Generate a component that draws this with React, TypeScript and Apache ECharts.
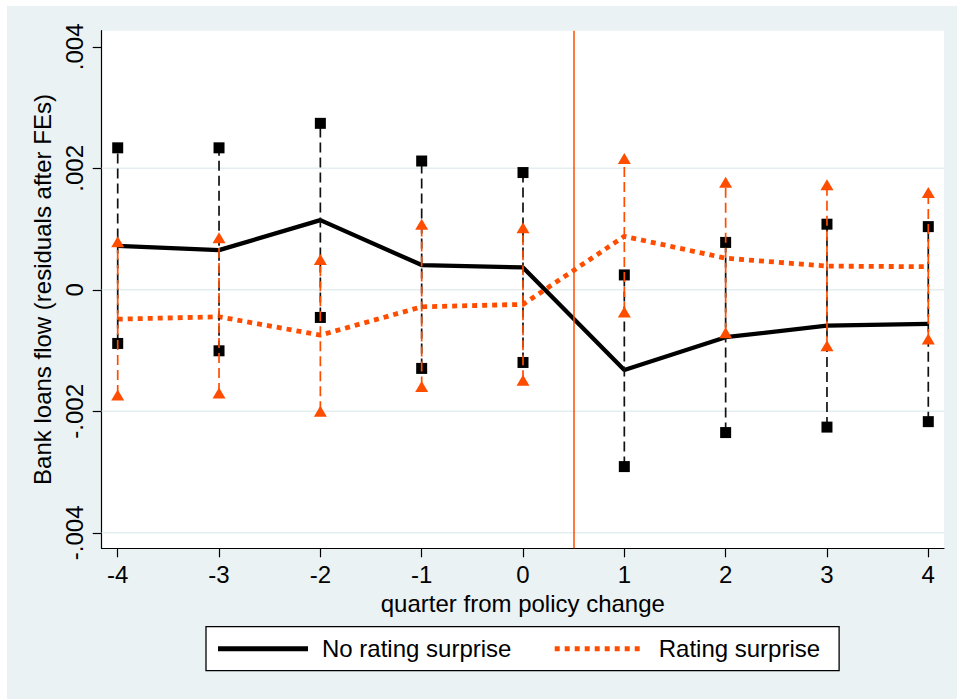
import React, { useEffect, useRef } from "react";
import * as echarts from "echarts";

const quarters = [-4, -3, -2, -1, 0, 1, 2, 3, 4];
const noSurprise = [0.000724, 0.000653, 0.001147, 0.000407, 0.000368, -0.00132, -0.00078, -0.00059, -0.00056];
const noSurpriseHi = [0.002337, 0.002337, 0.00274, 0.00212, 0.00193, 0.000245, 0.00078, 0.00108, 0.00104];
const noSurpriseLo = [-0.000883, -0.001004, -0.000455, -0.001294, -0.001196, -0.00291, -0.00235, -0.00226, -0.00217];
const surprise = [-0.000483, -0.000444, -0.000746, -0.00028, -0.00024, 0.00088, 0.00052, 0.00039, 0.00038];
const surpriseHi = [0.00079, 0.000856, 0.0005, 0.00108, 0.00102, 0.00216, 0.00177, 0.00173, 0.0016];
const surpriseLo = [-0.00173, -0.0017, -0.002, -0.00159, -0.00149, -0.000365, -0.000706, -0.00092, -0.00081];

const xTicks = [-4, -3, -2, -1, 0, 1, 2, 3, 4];
const yTicks = [-0.004, -0.002, 0, 0.002, 0.004];
const yGrid = [-0.004, -0.002, 0, 0.002];
const policyLine = 0.5;

const BLACK = "#000000";
const ORANGE = "#ff4d00";
const BG = "#eaf2f3";
const GRIDC = "#e4eef0";
const FONT = "'Liberation Sans', Arial, sans-serif";

const fmtY = (v: number) => {
  if (Math.abs(v) < 1e-12) return "0";
  const s = Math.abs(v).toFixed(3).replace(/^0/, "");
  return (v < 0 ? "-" : "") + s;
};

function errorBars(lo: number[], hi: number[], color: string, z: number) {
  return {
    type: "custom",
    z,
    silent: true,
    data: quarters.map((q, i) => [q, lo[i], hi[i]]),
    renderItem: (_p: any, api: any) => {
      const a = api.coord([api.value(0), api.value(1)]);
      const b = api.coord([api.value(0), api.value(2)]);
      return {
        type: "line",
        shape: { x1: a[0], y1: a[1], x2: b[0], y2: b[1] },
        style: { stroke: color, lineWidth: 1.7, lineDash: [10, 5] },
      };
    },
  };
}

function markers(vals: number[], symbol: string, size: any, color: string, z: number) {
  return {
    type: "scatter",
    z,
    silent: true,
    symbol,
    symbolSize: size,
    itemStyle: { color, opacity: 1 },
    data: quarters.map((q, i) => [q, vals[i]]),
  };
}

export default function App() {
  const ref = useRef<HTMLDivElement>(null);
  useEffect(() => {
    if (!ref.current) return;
    const chart = echarts.init(ref.current, null, { renderer: "svg" });
    chart.setOption({
      animation: false,
      backgroundColor: BG,
      textStyle: { fontFamily: FONT },
      grid: {
        left: 94.7,
        top: 24.7,
        right: 13,
        bottom: 150.7,
        show: true,
        backgroundColor: "#ffffff",
        borderWidth: 0,
      },
      xAxis: {
        type: "value",
        min: -4.158,
        max: 4.155,
        name: "quarter from policy change",
        nameLocation: "middle",
        nameGap: 33,
        nameTextStyle: { fontSize: 24, color: BLACK, fontFamily: FONT },
        axisLine: { show: true, onZero: false, lineStyle: { color: BLACK, width: 1.2 } },
        axisTick: { show: true, length: 9, customValues: xTicks, lineStyle: { color: BLACK, width: 1.2 } },
        axisLabel: { customValues: xTicks, fontSize: 24, color: BLACK, margin: 14, fontFamily: FONT },
        splitLine: { show: false },
      },
      yAxis: {
        type: "value",
        min: -0.004255,
        max: 0.004265,
        name: "Bank loans flow (residuals after FEs)",
        nameLocation: "middle",
        nameGap: 42,
        nameRotate: 90,
        nameTextStyle: { fontSize: 24, color: BLACK, fontFamily: FONT },
        axisLine: { show: true, onZero: false, lineStyle: { color: BLACK, width: 1.2 } },
        axisTick: { show: true, length: 9, customValues: yTicks, lineStyle: { color: BLACK, width: 1.2 } },
        axisLabel: {
          customValues: yTicks,
          rotate: 90,
          fontSize: 24,
          color: BLACK,
          margin: 15,
          fontFamily: FONT,
          formatter: (v: number) => fmtY(v),
        },
        splitLine: { show: false },
      },
      legend: {
        left: 199,
        top: 620.7,
        orient: "horizontal",
        padding: [10, 19, 10, 9.5],
        itemGap: 40.8,
        itemWidth: 90,
        itemHeight: 24,
        backgroundColor: "#ffffff",
        borderColor: BLACK,
        borderWidth: 1.3,
        borderRadius: 0,
        selectedMode: false,
        textStyle: { fontSize: 24, color: BLACK, fontFamily: FONT, padding: [0, 0, 0, 9] },
        data: [
          {
            name: "No rating surprise",
            itemStyle: { opacity: 0 },
            lineStyle: { color: BLACK, width: 5, type: "solid", opacity: 1 },
          },
          {
            name: "Rating surprise",
            itemStyle: { opacity: 0 },
            lineStyle: { color: ORANGE, width: 5, type: [5, 5], opacity: 1 },
          },
        ],
      },
      series: [
        {
          type: "custom",
          name: "grid",
          z: 1,
          silent: true,
          data: yGrid.map((v) => [v]),
          renderItem: (params: any, api: any) => {
            const cs = params.coordSys;
            const y = api.coord([0, api.value(0)])[1];
            return {
              type: "line",
              shape: { x1: cs.x, y1: y, x2: cs.x + cs.width, y2: y },
              style: { stroke: GRIDC, lineWidth: 1.6 },
            };
          },
          encode: { y: 0 },
        },
        {
          type: "line",
          name: "xline",
          z: 2,
          silent: true,
          data: [],
          markLine: {
            silent: true,
            symbol: ["none", "none"],
            label: { show: false },
            lineStyle: { color: ORANGE, width: 1.5, type: "solid" },
            data: [{ xAxis: policyLine }],
          },
        },
        {
          type: "line",
          name: "No rating surprise",
          z: 3,
          symbol: "none",
          silent: true,
          lineStyle: { color: BLACK, width: 4.3, type: "solid" },
          itemStyle: { color: BLACK },
          data: quarters.map((q, i) => [q, noSurprise[i]]),
        },
        {
          type: "line",
          name: "Rating surprise",
          z: 4,
          symbol: "none",
          silent: true,
          lineStyle: { color: ORANGE, width: 4.8, type: [5, 5] },
          itemStyle: { color: ORANGE },
          data: quarters.map((q, i) => [q, surprise[i]]),
        },
        errorBars(noSurpriseLo, noSurpriseHi, "#111111", 5),
        markers(noSurpriseHi, "rect", 11, BLACK, 6),
        markers(noSurpriseLo, "rect", 11, BLACK, 6),
        errorBars(surpriseLo, surpriseHi, ORANGE, 7),
        markers(surpriseHi, "triangle", [13, 11], ORANGE, 8),
        markers(surpriseLo, "triangle", [13, 11], ORANGE, 8),
      ],
    });
    return () => chart.dispose();
  }, []);
  return (
    <div
      ref={ref}
      style={{ position: "absolute", left: 7, top: 6, width: 950, height: 693 }}
    />
  );
}
